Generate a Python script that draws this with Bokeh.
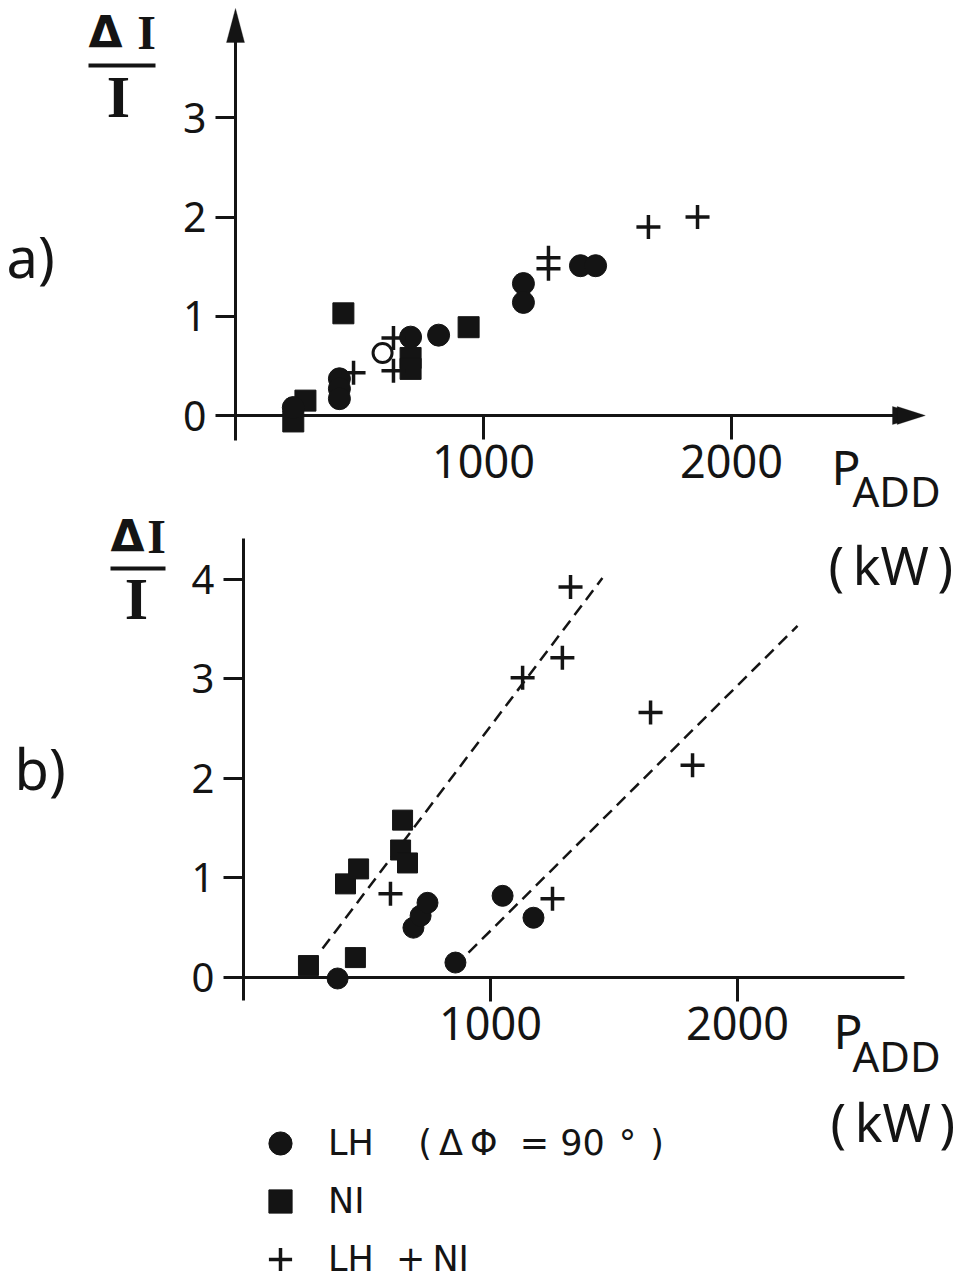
from bokeh.plotting import figure
from bokeh.models import (Range1d, LinearAxis, FixedTicker, Label, BoxAnnotation,
                          PolyAnnotation, Legend, LegendItem)
from bokeh.embed import file_html
from bokeh.resources import INLINE

W, H = 964, 1283
INK = "#141414"

# ---------------- data: panel a) ----------------
a_ni_p = [233, 282, 435, 940, 706, 706]
a_ni_r = [-0.06, 0.15, 1.03, 0.89, 0.58, 0.47]
a_lh_p = [233, 419, 419, 419, 706, 819, 1161, 1161, 1391, 1452]
a_lh_r = [0.08, 0.37, 0.27, 0.17, 0.79, 0.81, 1.33, 1.14, 1.51, 1.51]
a_open_p = [593]
a_open_r = [0.63]
a_both_p = [476, 637, 637, 1262, 1262, 1665, 1863]
a_both_r = [0.43, 0.78, 0.45, 1.59, 1.48, 1.90, 2.00]

# ---------------- data: panel b) ----------------
b_ni_p = [263, 453, 413, 466, 644, 636, 664]
b_ni_r = [0.12, 0.20, 0.94, 1.09, 1.58, 1.28, 1.15]
b_lh_p = [381, 688, 717, 745, 858, 1049, 1174]
b_lh_r = [-0.01, 0.50, 0.62, 0.75, 0.15, 0.82, 0.60]
b_both_p = [595, 1130, 1291, 1324, 1648, 1818, 1251]
b_both_r = [0.84, 3.01, 3.21, 3.92, 2.66, 2.13, 0.79]
fit1_p = [320, 1453]
fit1_r = [0.29, 4.01]
fit2_p = [911, 2243]
fit2_r = [0.25, 3.53]

a_yticks = [0, 1, 2, 3]
b_yticks = [0, 1, 2, 3, 4]
x_ticks = [1000, 2000]

# ---------------- layout (pixel mapping of each panel) ----------------
AX0, AXS = 235, 0.248     # px of P=0, px per kW
AY0, AYS = 415, 99.2      # px of 0, px per unit
BX0, BXS = 243, 0.247
BY0, BYS = 977, 99.6

p = figure(width=W, height=H, output_backend="svg", toolbar_location=None,
           x_range=Range1d(-AX0 / AXS, (W - AX0) / AXS),
           y_range=Range1d(-(H - AY0) / AYS, AY0 / AYS),
           x_axis_location=None, y_axis_location=None,
           min_border=0, outline_line_color=None)
p.extra_x_ranges = {"bx": Range1d(-BX0 / BXS, (W - BX0) / BXS)}
p.extra_y_ranges = {"by": Range1d(-(H - BY0) / BYS, BY0 / BYS)}
p.xgrid.visible = False
p.ygrid.visible = False
p.background_fill_color = "white"
p.border_fill_color = "white"


def style_axis(ax, tick_out, font_size, standoff):
    ax.axis_line_width = 3
    ax.axis_line_color = INK
    ax.major_tick_line_width = 3
    ax.major_tick_line_color = INK
    ax.major_tick_out = tick_out
    ax.major_tick_in = 0
    ax.minor_tick_out = 0
    ax.minor_tick_in = 0
    ax.major_label_text_font = "Noto Sans"
    ax.major_label_text_font_size = f"{font_size}px"
    ax.major_label_text_color = INK
    ax.major_label_standoff = standoff


# panel a axes
a_tip_y = (AY0 - 8) / AYS
a_base_y = (AY0 - 42) / AYS
a_tip_x = (923 - AX0) / AXS
a_base_x = (892 - AX0) / AXS
ay = LinearAxis(fixed_location=0, bounds=(-0.25, a_base_y + 0.05),
                ticker=FixedTicker(ticks=a_yticks))
style_axis(ay, 20, 41, 9)
p.add_layout(ay, "left")
ax = LinearAxis(fixed_location=0, bounds=(0, a_base_x + 10),
                ticker=FixedTicker(ticks=x_ticks))
style_axis(ax, 24, 45, 5)
p.add_layout(ax, "below")

# panel b axes
b_tip_y = (BY0 - 510) / BYS
b_base_y = (BY0 - 543) / BYS
b_tip_x = (930 - BX0) / BXS
b_base_x = (902 - BX0) / BXS
by = LinearAxis(x_range_name="bx", y_range_name="by", fixed_location=0,
                bounds=(-0.23, b_base_y + 0.05), ticker=FixedTicker(ticks=b_yticks))
style_axis(by, 20, 40, 9)
p.add_layout(by, "left")
bx = LinearAxis(x_range_name="bx", y_range_name="by", fixed_location=0,
                bounds=(0, b_base_x + 10), ticker=FixedTicker(ticks=x_ticks))
style_axis(bx, 24, 45, 5)
p.add_layout(bx, "below")

# arrow heads
hw_a = 9 / AXS
hh_a = 9 / AYS
hw_b = 9 / BXS
hh_b = 9 / BYS
p.add_layout(PolyAnnotation(xs=[0, -hw_a, hw_a], ys=[a_tip_y, a_base_y, a_base_y],
                            fill_color=INK, fill_alpha=1, line_color=INK))
p.add_layout(PolyAnnotation(xs=[a_tip_x, a_base_x, a_base_x], ys=[0, hh_a, -hh_a],
                            fill_color=INK, fill_alpha=1, line_color=INK))
p.add_layout(PolyAnnotation(xs=[0, -hw_b, hw_b], ys=[b_tip_y, b_base_y, b_base_y],
                            x_range_name="bx", y_range_name="by",
                            fill_color=INK, fill_alpha=1, line_color=INK))
p.add_layout(PolyAnnotation(xs=[b_tip_x, b_base_x, b_base_x], ys=[0, hh_b, -hh_b],
                            x_range_name="bx", y_range_name="by",
                            fill_color=INK, fill_alpha=1, line_color=INK))

# ---------------- marks: panel a ----------------
p.scatter(a_ni_p, a_ni_r, marker="square", size=21, fill_color=INK, line_color=INK)
p.scatter(a_lh_p, a_lh_r, marker="circle", size=22, fill_color=INK, line_color=INK)
p.scatter(a_open_p, a_open_r, marker="circle", size=19, fill_color="white",
          line_color=INK, line_width=3)
p.scatter(a_both_p, a_both_r, marker="cross", size=24, line_color=INK, line_width=3.5)

# ---------------- marks: panel b ----------------
kw = dict(x_range_name="bx", y_range_name="by")
p.line(fit1_p, fit1_r, line_dash="12 7", line_width=2.5, line_color=INK, **kw)
p.line(fit2_p, fit2_r, line_dash="12 7", line_width=2.5, line_color=INK, **kw)
r_ni = p.scatter(b_ni_p, b_ni_r, marker="square", size=20, fill_color=INK,
                 line_color=INK, **kw)
r_lh = p.scatter(b_lh_p, b_lh_r, marker="circle", size=21, fill_color=INK,
                 line_color=INK, **kw)
r_both = p.scatter(b_both_p, b_both_r, marker="cross", size=24, line_color=INK,
                   line_width=3.5, **kw)

# ---------------- texts ----------------
SHIFT = 22  # empirical offset of the alphabetic baseline in the svg output


def lab(text, x, py, size, font="Noto Sans", style="normal", align="left"):
    p.add_layout(Label(x=x, y=H - (py - SHIFT), x_units="screen", y_units="screen",
                       text=text, text_font=font, text_font_size=f"{size}px",
                       text_font_style=style, text_align=align,
                       text_baseline="alphabetic", text_color=INK))


def bar(x0, x1, py):
    p.add_layout(BoxAnnotation(left=x0, right=x1, top=H - py + 2, bottom=H - py - 2,
                               left_units="screen", right_units="screen",
                               top_units="screen", bottom_units="screen",
                               fill_color=INK, fill_alpha=1, line_color=None))


lab("a)", 6, 277, 56)
lab("b)", 14, 789, 56)

# y titles: ΔI / I
lab("Δ", 105, 54, 44, font="DejaVu Sans", style="bold", align="center")
lab("I", 146, 54, 48, font="Liberation Serif", style="bold", align="center")
bar(88, 155, 65)
lab("I", 118, 118, 60, font="Liberation Serif", style="bold", align="center")
lab("Δ", 127, 558, 44, font="DejaVu Sans", style="bold", align="center")
lab("I", 156, 558, 48, font="Liberation Serif", style="bold", align="center")
bar(110, 165, 568)
lab("I", 136, 620, 60, font="Liberation Serif", style="bold", align="center")

# x titles: P_ADD (kW)
lab("P", 831, 488, 48)
lab("ADD", 852, 512, 42)
lab("(\u2009kW\u2009)", 828, 586, 52)
lab("P", 833, 1052, 48)
lab("ADD", 852, 1077, 42)
lab("(\u2009kW\u2009)", 830, 1143, 52)

# legend
nb, th = "\u00a0", "\u2009"
legend = Legend(items=[
    LegendItem(label="LH" + nb * 4 + "(" + th + "Δ" + th + "Φ" + nb * 2 + "=" + nb
               + "90" + th * 2 + "°" + th * 2 + ")", renderers=[r_lh]),
    LegendItem(label="NI", renderers=[r_ni]),
    LegendItem(label="LH" + nb * 2 + "+" + th + "NI", renderers=[r_both]),
], location=(251, -5), orientation="vertical", glyph_width=58, glyph_height=58,
    label_text_font="DejaVu Sans", label_text_font_size="35px", label_text_color=INK,
    label_standoff=19, spacing=0, padding=0, margin=0,
    border_line_color=None, background_fill_alpha=0)
p.add_layout(legend)

open("out.html", "w").write(file_html(p, INLINE))
